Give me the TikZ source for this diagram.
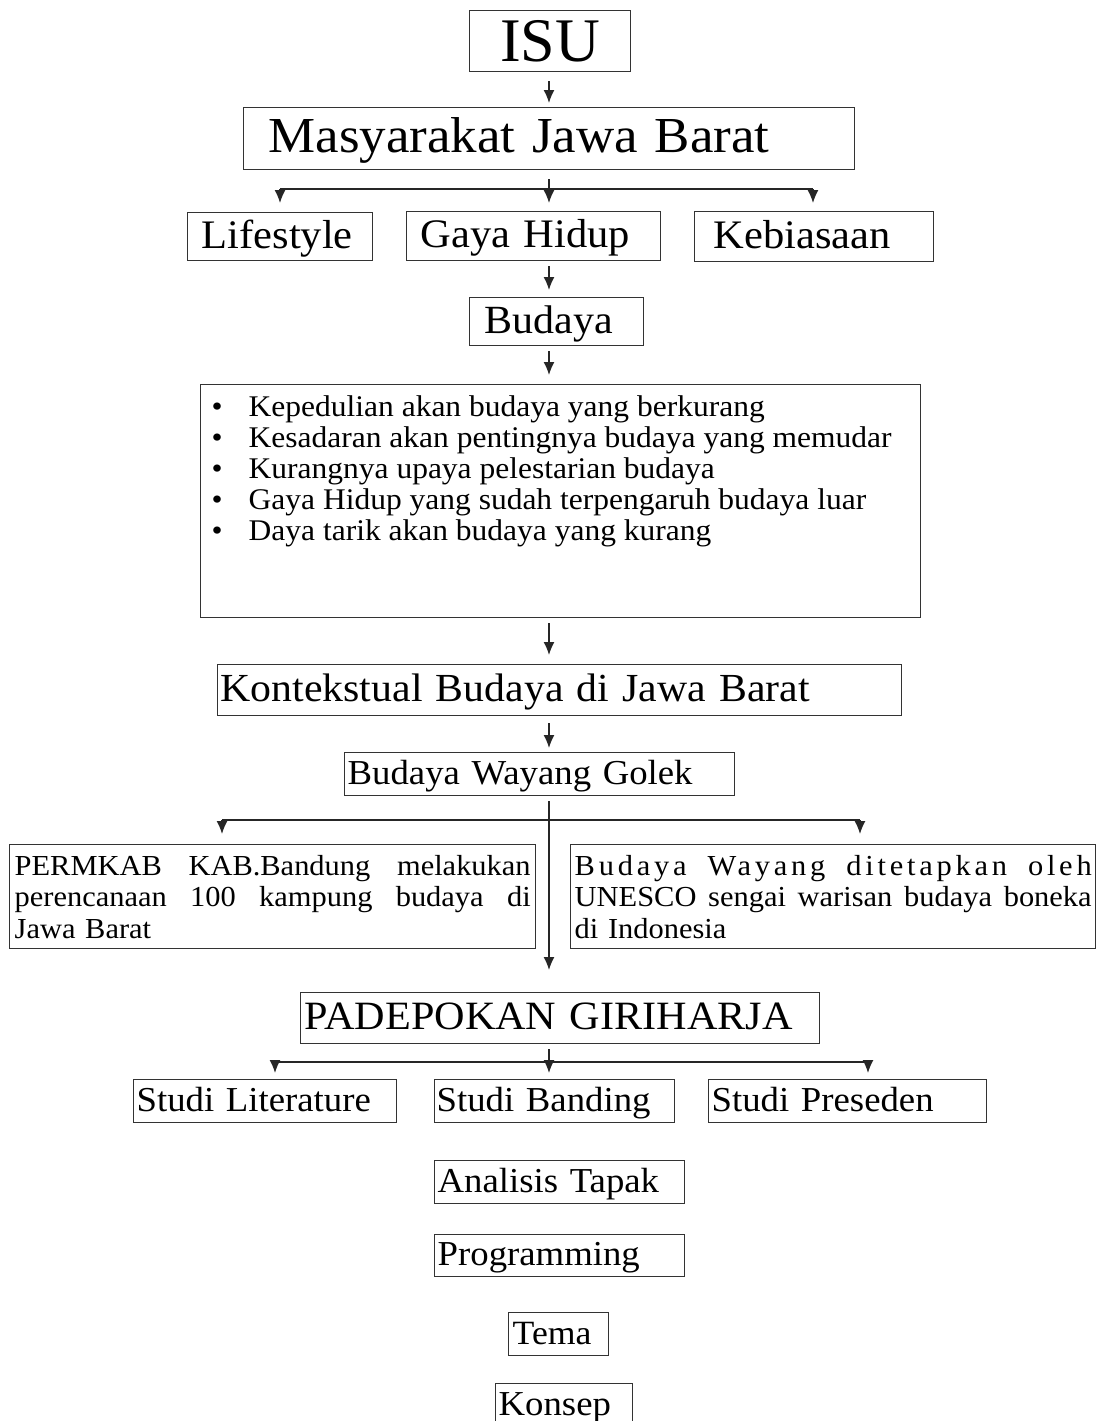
\documentclass[tikz,border=0pt]{standalone}
\usepackage{fontspec}
\setmainfont{Liberation Serif}[FakeStretch=1.05]
\newfontfamily\plainserif{Liberation Serif}
\usetikzlibrary{arrows.meta}
\newcommand\fsz[2]{\fontsize{#1}{#2}\selectfont}
\newcommand\bulit{\makebox[48pt][l]{\hspace{11pt}\textbullet}}
\newcommand\jline[2]{\makebox[#1][s]{\spaceskip=0pt\relax\xspaceskip=0pt\relax #2}}
\begin{document}
\begin{tikzpicture}[x=1pt,y=-1pt,
  box/.style={draw=black!80, line width=1.4pt, anchor=north west, inner ysep=0pt, align=left},
  big/.style={font=\fsz{40.5}{44}, text height=26.7pt, text depth=4.1pt},
  mid/.style={font=\fsz{35}{38}, text height=23.1pt, text depth=3.5pt},
  arr/.style={draw=black!85, line width=1.4pt, -{Latex[length=13pt,width=11pt]}},
  ln/.style={draw=black!85, line width=1.4pt}]
\useasboundingbox[fill=white] (0,0) rectangle (1101,1421);
\coordinate (axis) at (549,0);

% boxes
\node[box, inner xsep=0pt, text width=161pt, align=center, minimum height=61pt, text height=41pt, text depth=0pt, font=\plainserif\fsz{62}{66}] (isu) at (469,10) {ISU};
\node[box, inner xsep=25pt, text width=561pt, minimum height=62pt, font=\fsz{50.4}{55}, text height=33.3pt, text depth=5pt] (mas) at (243,107) {Masyarakat Jawa Barat};
\node[box, big, inner xsep=14pt, text width=157pt, minimum height=48pt] (life) at (187,212) {Lifestyle};
\node[box, big, inner xsep=14pt, text width=226pt, minimum height=49pt] (gaya) at (406,211) {Gaya Hidup};
\node[box, big, inner xsep=19pt, text width=201pt, minimum height=50pt] (kebi) at (694,211) {Kebiasaan};
\node[box, big, inner xsep=15pt, text width=144pt, minimum height=48pt, font=\fsz{40}{44}] (bud) at (469,297) {Budaya};
\node[box, inner sep=0pt] (bull) at (200,384) {\parbox[t][233pt][t]{720pt}{\fsz{30}{31}\rule{0pt}{32pt}%
\bulit Kepedulian akan budaya yang berkurang\\
\bulit Kesadaran akan pentingnya budaya yang memudar\\
\bulit Kurangnya upaya pelestarian budaya\\
\bulit Gaya Hidup yang sudah terpengaruh budaya luar\\
\bulit Daya tarik akan budaya yang kurang}};
\node[box, big, inner xsep=3pt, text width=678pt, minimum height=51pt, font=\fsz{39.8}{44}] (kont) at (217,664) {Kontekstual Budaya di Jawa Barat};
\node[box, mid, inner xsep=3pt, text width=384pt, minimum height=43pt] (way) at (344,752) {Budaya Wayang Golek};
\node[box, inner xsep=5pt, text width=516pt, minimum height=104pt, font=\fsz{29}{31.5}] (perm) at (9,844)
  {\jline{516pt}{PERMKAB KAB.Bandung melakukan}\\\jline{516pt}{perencanaan 100 kampung budaya di}\\Jawa Barat};
\node[box, inner xsep=4pt, text width=517pt, minimum height=104pt, font=\fsz{29}{31.5}] (unes) at (570,844)
  {\jline{517pt}{\addfontfeature{LetterSpace=13}Budaya Wayang ditetapkan oleh}\\\jline{517pt}{UNESCO sengai warisan budaya boneka}\\di Indonesia};
\node[box, big, inner xsep=4pt, text width=511pt, minimum height=51pt, font=\fsz{40.2}{44}] (pade) at (300,992) {PADEPOKAN GIRIHARJA};
\node[box, mid, inner xsep=3pt, text width=257pt, minimum height=43pt] (slit) at (133,1079) {Studi Literature};
\node[box, mid, inner xsep=2pt, text width=236pt, minimum height=43pt] (sban) at (434,1079) {Studi Banding};
\node[box, mid, inner xsep=3pt, text width=272pt, minimum height=43pt] (spre) at (708,1079) {Studi Preseden};
\node[box, mid, inner xsep=3pt, text width=244pt, minimum height=43pt] (anal) at (434,1160) {Analisis Tapak};
\node[box, mid, inner xsep=3pt, text width=244pt, minimum height=42pt] (prog) at (434,1234) {Programming};
\node[box, mid, inner xsep=4pt, text width=92pt, minimum height=43pt, font=\fsz{34}{37}] (tema) at (508,1312) {Tema};
\node[box, mid, inner xsep=3pt, text width=131pt, minimum height=44pt] (kons) at (495,1383) {Konsep};

% connectors
\draw[arr, shorten <=9pt, shorten >=4pt] (isu.south -| axis) -- (mas.north -| axis);

\coordinate (l1) at (280,189);
\coordinate (r1) at (813,189);
\draw[arr, shorten <=9pt, shorten >=8pt] (mas.south -| axis) -- (gaya.north -| axis);
\draw[ln] (l1) -- (r1);
\draw[arr, shorten >=9pt] (l1) -- (l1 |- life.north);
\draw[arr, shorten >=8pt] (r1) -- (r1 |- kebi.north);

\draw[arr, shorten <=5pt, shorten >=7pt] (gaya.south -| axis) -- (bud.north -| axis);
\draw[arr, shorten <=5pt, shorten >=9pt] (bud.south -| axis) -- (bull.north -| axis);
\draw[arr, shorten <=5pt, shorten >=9pt] (bull.south -| axis) -- (kont.north -| axis);
\draw[arr, shorten <=7pt, shorten >=4pt] (kont.south -| axis) -- (way.north -| axis);

\coordinate (l2) at (222,820);
\coordinate (r2) at (860,820);
\draw[arr, shorten <=5pt, shorten >=22pt] (way.south -| axis) -- (pade.north -| axis);
\draw[ln] (l2) -- (r2);
\draw[arr, shorten >=10pt] (l2) -- (l2 |- perm.north);
\draw[arr, shorten >=10pt] (r2) -- (r2 |- unes.north);

\coordinate (l3) at (275,1062);
\coordinate (r3) at (868,1062);
\draw[arr, shorten <=5pt, shorten >=6pt] (pade.south -| axis) -- (sban.north -| axis);
\draw[ln] (l3) -- (r3);
\draw[arr, shorten >=6pt] (l3) -- (l3 |- slit.north);
\draw[arr, shorten >=6pt] (r3) -- (r3 |- spre.north);
\end{tikzpicture}
\end{document}
